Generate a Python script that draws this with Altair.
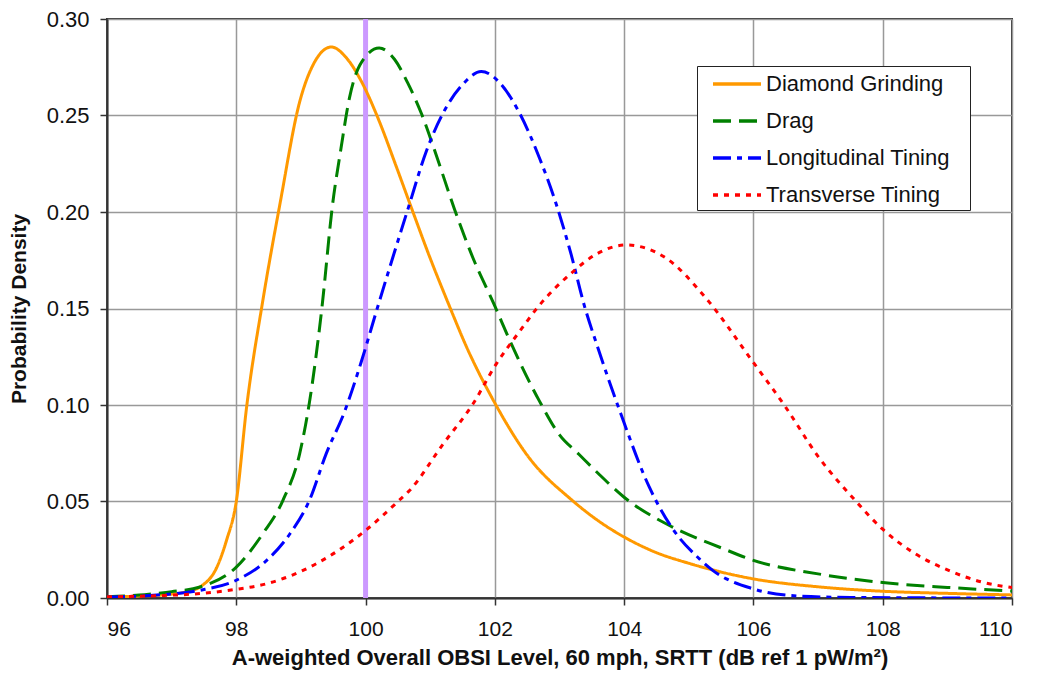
import altair as alt
import pandas as pd

series_names = ["Diamond Grinding", "Drag", "Longitudinal Tining", "Transverse Tining"]
series_colors = ["#FF9900", "#008000", "#0000FF", "#FF0000"]
series_dashes = [[1, 0], [18, 8], [18, 6, 5, 6], [5, 6]]

dg_x = [96, 96.5, 97, 97.2, 97.45, 97.7, 97.85, 98, 98.16, 98.41, 98.68, 98.98, 99.2, 99.47, 99.7, 99.93,
        100.2, 100.47, 100.7, 101.0, 101.3, 101.55, 102.0, 102.5, 103.2, 103.6, 104.0, 104.5, 105.0, 106.0,
        107.0, 108.0, 109.0, 110.0]
dg_y = [0.0005, 0.001, 0.002, 0.003, 0.006, 0.016, 0.030, 0.050, 0.099, 0.154, 0.205, 0.257, 0.277, 0.2855,
        0.280, 0.268, 0.248, 0.224, 0.203, 0.176, 0.151, 0.131, 0.101, 0.074, 0.0505, 0.040, 0.0316, 0.0235,
        0.018, 0.0099, 0.0058, 0.0035, 0.0024, 0.0016]

dr_x = [96, 96.5, 96.77, 97.0, 97.44, 98.0, 98.41, 98.72, 98.98, 99.13, 99.32, 99.49, 99.62, 99.75, 99.91,
        100.21, 100.45, 100.65, 100.87, 101.09, 101.37, 101.66, 101.99, 102.25, 102.69, 103.0, 103.3, 103.6,
        104.0, 104.75, 105.5, 106.0, 107.0, 108.0, 109.0, 110.0]
dr_y = [0.0008, 0.0015, 0.0024, 0.0033, 0.0057, 0.016, 0.0333, 0.0505, 0.0747, 0.101, 0.149, 0.204, 0.233,
        0.259, 0.276, 0.285, 0.279, 0.267, 0.2505, 0.2298, 0.202, 0.1763, 0.152, 0.132, 0.102, 0.0845,
        0.0745, 0.0645, 0.0522, 0.0367, 0.026, 0.0195, 0.0125, 0.008, 0.0055, 0.0036]

lt_x = [96, 96.77, 97.44, 98.0, 98.47, 98.83, 99.13, 99.39, 99.68, 99.93, 100.18, 100.42, 100.66, 100.94,
        101.2, 101.5, 101.79, 102.1, 102.37, 102.69, 102.95, 103.18, 103.38, 103.6, 103.95, 104.39, 104.75,
        105.16, 105.37, 105.98, 106.7, 107.5, 108.5, 110]
lt_y = [0.0005, 0.0015, 0.004, 0.0092, 0.0195, 0.0333, 0.0505, 0.0747, 0.097, 0.122, 0.150, 0.1763, 0.202,
        0.2315, 0.2513, 0.266, 0.2728, 0.266, 0.252, 0.228, 0.204, 0.178, 0.152, 0.129, 0.0953, 0.0574,
        0.0359, 0.0204, 0.0143, 0.0049, 0.001, 0.0003, 0.0001, 0.0]

tt_x = [96, 96.77, 97.44, 98.0, 98.47, 99.24, 100.0, 100.5, 100.68, 101.2, 101.66, 102.02, 102.38, 102.66,
        103.22, 103.56, 104.03, 104.64, 105.26, 105.98, 106.5, 107.01, 107.53, 107.99, 108.5, 109.02,
        109.53, 110]
tt_y = [0.0006, 0.0012, 0.0023, 0.0045, 0.0074, 0.0178, 0.035, 0.050, 0.0557, 0.0798, 0.1005, 0.1212,
        0.138, 0.1505, 0.1694, 0.178, 0.1829, 0.1763, 0.1556, 0.1229, 0.0988, 0.0729, 0.0522, 0.0359,
        0.0230, 0.0143, 0.0083, 0.0054]

marker_x = [100]
x_ticks = [96, 98, 100, 102, 104, 106, 108, 110]
y_ticks = [0.0, 0.05, 0.10, 0.15, 0.20, 0.25, 0.30]

frames = []
for name, xs, ys in zip(series_names, [dg_x, dr_x, lt_x, tt_x], [dg_y, dr_y, lt_y, tt_y]):
    frames.append(pd.DataFrame({"x": xs, "y": ys, "series": name}))
df = pd.concat(frames, ignore_index=True)

FONT = "Liberation Sans"

xscale = alt.Scale(domain=[96, 110], nice=False, zero=False)
yscale = alt.Scale(domain=[0, 0.30], nice=False)

legend_kw = dict(orient="none", legendX=590, legendY=47, title=None,
                 symbolType="M-2,0H2", symbolSize=576, symbolStrokeWidth=3.5,
                 symbolOffset=22,
                 labelFontSize=22, labelFont=FONT, labelColor="#111",
                 labelExpr="datum.label + '\u2800'",
                 strokeColor="#222", fillColor="white", padding=4,
                 rowPadding=12, labelOffset=15, cornerRadius=0,
                 labelLimit=340)

lines = alt.Chart(df).mark_line(strokeWidth=3, interpolate="monotone", clip=True).encode(
    x=alt.X("x:Q", scale=xscale,
            axis=alt.Axis(values=x_ticks, format="d", labelFontSize=21, labelPadding=13,
                          titlePadding=8, titleFontSize=22,
                          title="A-weighted Overall OBSI Level, 60 mph, SRTT (dB ref 1 pW/m²)")),
    y=alt.Y("y:Q", scale=yscale,
            axis=alt.Axis(values=y_ticks, format=".2f", labelFontSize=22, labelPadding=11,
                          titlePadding=17, titleFontSize=21, title="Probability Density")),
    color=alt.Color("series:N",
                    scale=alt.Scale(domain=series_names, range=series_colors),
                    legend=alt.Legend(**legend_kw)),
    strokeDash=alt.StrokeDash("series:N",
                              scale=alt.Scale(domain=series_names, range=series_dashes),
                              legend=alt.Legend(**legend_kw)),
    order=alt.Order("x:Q"),
)

rule = alt.Chart(pd.DataFrame({"x": marker_x})).mark_rule(color="#CC99FF", strokeWidth=5).encode(
    x=alt.X("x:Q", scale=xscale)
)

chart = alt.layer(rule, lines).properties(
    width=905, height=579,
    autosize=alt.AutoSizeParams(type="none"),
    padding={"left": 99, "top": 11, "right": 17, "bottom": 80},
).configure_view(
    stroke="#333", strokeWidth=2
).configure_axis(
    grid=True, gridColor="#999999", gridWidth=1.5,
    domainColor="#333", domainWidth=2,
    tickColor="#333", tickSize=7, tickWidth=1.5,
    labelFont=FONT, labelColor="#111",
    titleFont=FONT, titleFontWeight="bold", titleColor="#111",
)

chart.save("out.html", embed_options={"renderer": "svg", "actions": False})
